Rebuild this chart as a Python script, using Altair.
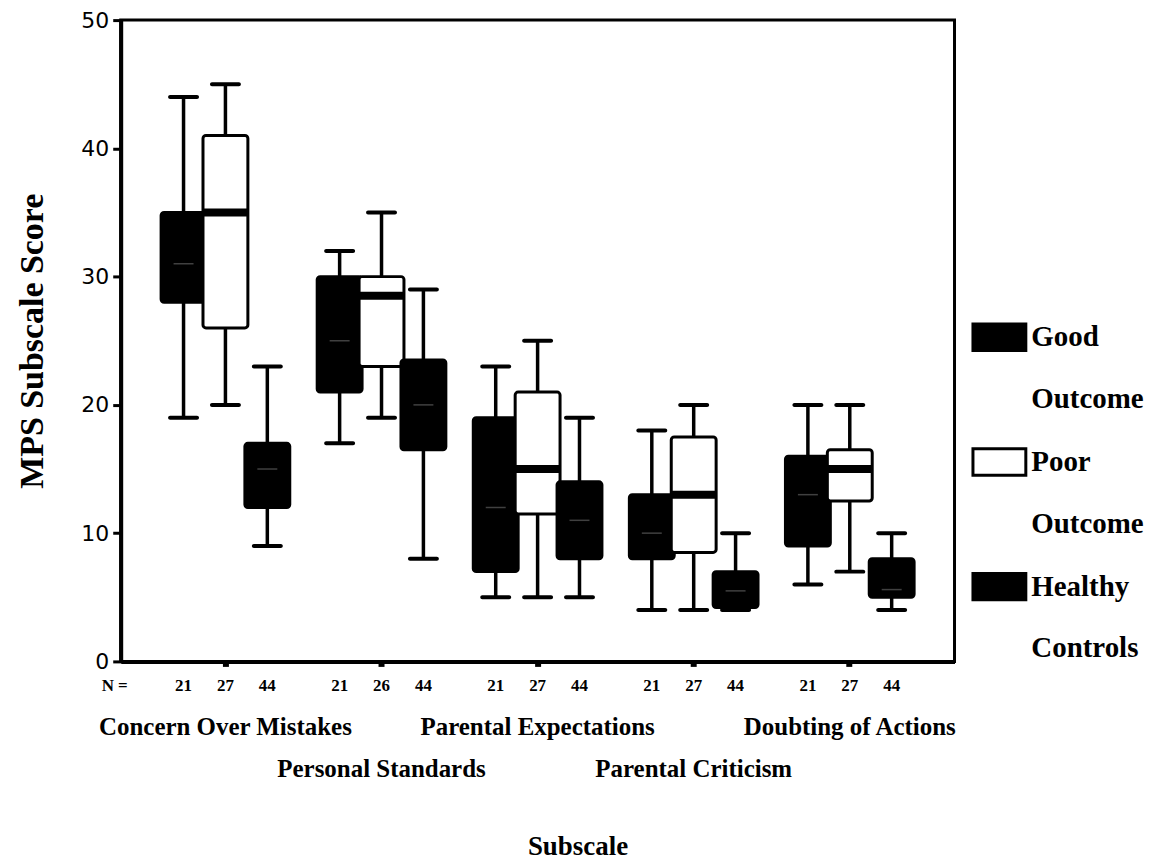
import altair as alt
import pandas as pd

groups = ["Concern Over Mistakes", "Personal Standards", "Parental Expectations",
          "Parental Criticism", "Doubting of Actions"]
series = ["Good Outcome", "Poor Outcome", "Healthy Controls"]

good_low = [19, 17, 5, 4, 6]
good_q1 = [28, 21, 7, 8, 9]
good_med = [31, 25, 12, 10, 13]
good_q3 = [35, 30, 19, 13, 16]
good_high = [44, 32, 23, 18, 20]
good_n = [21, 21, 21, 21, 21]

poor_low = [20, 19, 5, 4, 7]
poor_q1 = [26, 23, 11.5, 8.5, 12.5]
poor_med = [35, 28.5, 15, 13, 15]
poor_q3 = [41, 30, 21, 17.5, 16.5]
poor_high = [45, 35, 25, 20, 20]
poor_n = [27, 26, 27, 27, 27]

healthy_low = [9, 8, 5, 4, 4]
healthy_q1 = [12, 16.5, 8, 4.2, 5]
healthy_med = [15, 20, 11, 5.5, 5.6]
healthy_q3 = [17, 23.5, 14, 7, 8]
healthy_high = [23, 29, 19, 10, 10]
healthy_n = [44, 44, 44, 44, 44]

rows = []
for s, lows, q1s, meds, q3s, highs, ns in [
    (series[0], good_low, good_q1, good_med, good_q3, good_high, good_n),
    (series[1], poor_low, poor_q1, poor_med, poor_q3, poor_high, poor_n),
    (series[2], healthy_low, healthy_q1, healthy_med, healthy_q3, healthy_high, healthy_n),
]:
    for g, lo, a, m, b, hi, n in zip(groups, lows, q1s, meds, q3s, highs, ns):
        rows.append(dict(subscale=g, group=s, low=lo, q1=a, median=m, q3=b, high=hi, n=n))
df = pd.DataFrame(rows)

W, H = 836, 643
SERIF = "Liberation Serif"

x = alt.X(
    "subscale:N", sort=groups, title="Subscale",
    scale=alt.Scale(paddingInner=0, paddingOuter=0.171),
    axis=alt.Axis(
        labelExpr="(datum.value == 'Personal Standards' || datum.value == 'Parental Criticism') ? ['', datum.value] : [datum.value, '']",
        labelFont=SERIF, labelFontSize=25, labelFontWeight="bold", labelLineHeight=42,
        labelAngle=0, labelPadding=48, labelLimit=400, labelOverlap=False,
        labelColor="black",
        tickSize=5, tickWidth=6, tickColor="black", domainWidth=4, domainColor="black",
        titleFont=SERIF, titleFontSize=27, titleFontWeight="bold", titlePadding=53,
        titleX=458, titleAnchor="start", titleAlign="center",
        titleColor="black", grid=False,
    ),
)
xo = alt.XOffset("group:N", sort=series,
                 scale=alt.Scale(paddingInner=0, paddingOuter=0.363))
yscale = alt.Scale(domain=[0, 50], nice=False)
yaxis = alt.Axis(
    values=[0, 10, 20, 30, 40, 50], labelFont="DejaVu Sans", labelFontSize=22,
    labelColor="black", labelPadding=4, tickSize=8, tickWidth=3, tickColor="black",
    domainWidth=4, domainColor="black", grid=False,
    titleFont=SERIF, titleFontSize=34, titleFontWeight="bold", titlePadding=31,
    titleColor="black",
)

base = alt.Chart(df).encode(x=x, xOffset=xo)

whisk = base.mark_rule(color="black", strokeWidth=3.5).encode(
    y=alt.Y("low:Q", scale=yscale, axis=yaxis, title="MPS Subscale Score"),
    y2="high:Q",
)
cap_low = base.mark_tick(color="black", opacity=1, size=31, thickness=4,
                         cornerRadius=2).encode(y="low:Q")
cap_high = base.mark_tick(color="black", opacity=1, size=31, thickness=4,
                          cornerRadius=2).encode(y="high:Q")

boxes = base.mark_bar(size=45, stroke="black", strokeWidth=3, cornerRadius=3,
                      opacity=1).encode(
    y="q3:Q", y2="q1:Q",
    fill=alt.Fill(
        "group:N", sort=series,
        scale=alt.Scale(domain=series, range=["black", "white", "black"]),
        legend=alt.Legend(
            title=None, orient="none", legendX=853, legendY=290, padding=0,
            symbolType="M-1,-0.5H1V0.5H-1Z", symbolSize=2809,
            symbolStrokeColor="black", symbolStrokeWidth=3, symbolOpacity=1,
            labelExpr="split(datum.label, ' ')",
            labelFont=SERIF, labelFontSize=29, labelFontWeight="bold",
            labelColor="black", labelLimit=300, labelOffset=4, rowPadding=20,
        ),
    ),
)
med_poor = base.transform_filter(alt.datum.group == "Poor Outcome").mark_tick(
    color="black", opacity=1, size=44, thickness=8).encode(y="median:Q")
med_dark = base.transform_filter(alt.datum.group != "Poor Outcome").mark_tick(
    color="white", size=20, thickness=1.5, opacity=0.25).encode(y="median:Q")

counts = base.mark_text(font=SERIF, fontSize=17, fontWeight="bold", baseline="middle",
                        color="black").encode(y=alt.value(H + 25), text="n:Q")
nlabel = alt.Chart(pd.DataFrame({"t": ["N ="]})).mark_text(
    font=SERIF, fontSize=17, fontWeight="bold", baseline="middle", color="black"
).encode(x=alt.value(-6), y=alt.value(H + 25), text="t:N")

chart = alt.layer(whisk, cap_low, cap_high, boxes, med_poor, med_dark, counts, nlabel).properties(
    width=W, height=H, background="white",
    padding={"left": 8, "top": 0, "right": 5, "bottom": 5},
).configure(
    view=alt.ViewConfig(stroke="black", strokeWidth=3),
    style={"guide-label": {"lineHeight": 62}},
)

chart.save("out.html", embed_options={"renderer": "svg", "actions": False})
